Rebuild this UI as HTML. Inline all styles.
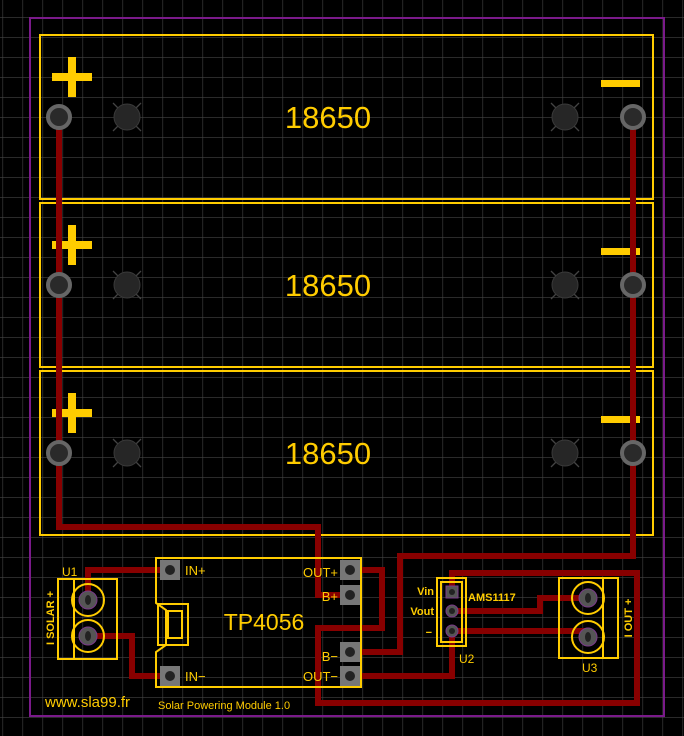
<!DOCTYPE html>
<html><head><style>body{margin:0;background:#000}svg{display:block}</style></head><body>
<svg width="684" height="736" viewBox="0 0 684 736" xmlns="http://www.w3.org/2000/svg" font-family="Liberation Sans, sans-serif">
<defs>
<pattern id="g" x="2.5" y="17" width="20" height="20" patternUnits="userSpaceOnUse">
<path d="M0 0H20M0 0V20" stroke="#444" stroke-width="1.2" fill="none"/>
</pattern>
<g id="bat">
<rect x="40" y="-82" width="613" height="164" fill="none" stroke="#ffcc00" stroke-width="2"/>
<rect x="52" y="-44" width="40" height="8" fill="#ffcc00"/>
<rect x="68" y="-60" width="8" height="40" fill="#ffcc00"/>
<rect x="601" y="-37" width="39" height="7" fill="#ffcc00"/>
<g stroke="#444" stroke-width="1.3"><path d="M113 -14L141 14M141 -14L113 14M551 -14L579 14M579 -14L551 14"/></g>
<circle cx="127" cy="0" r="13" fill="#262626" stroke="#3a3a3a"/>
<circle cx="565" cy="0" r="13" fill="#262626" stroke="#3a3a3a"/>
<text x="328" y="11" font-size="31" fill="#ffcc00" text-anchor="middle" font-weight="300">18650</text>
</g>
</defs>
<rect width="684" height="736" fill="#000"/>
<rect width="684" height="736" fill="url(#g)"/>
<rect x="30" y="18" width="634" height="698" fill="none" stroke="#7a1a8a" stroke-width="2"/>
<use href="#bat" y="117"/><use href="#bat" y="285"/><use href="#bat" y="453"/>
<g fill="none" stroke="#880000" stroke-width="6" stroke-linejoin="miter">
<path d="M59 117V527H318V595H350"/>
<path d="M633 117V556H400V652H350"/>
<path d="M350 570H382V628H318V703H637V573H452V592"/>
<path d="M350 676H452V631"/>
<path d="M452 611H540V598H588"/>
<path d="M452 631H588V637"/>
<path d="M88 600V570H170"/>
<path d="M88 636H132V676H170"/>
</g>
<g fill="#2a2a2a" stroke="#666" stroke-width="4">
<circle cx="59" cy="117" r="11"/><circle cx="633" cy="117" r="11"/>
<circle cx="59" cy="285" r="11"/><circle cx="633" cy="285" r="11"/>
<circle cx="59" cy="453" r="11"/><circle cx="633" cy="453" r="11"/>
</g>
<!-- TP4056 -->
<path d="M156 558H361V687H156V652L166 645V610L156 603Z" fill="none" stroke="#ffcc00" stroke-width="2"/>
<path d="M158 604H188V645H158Z M168 611H182V638H168Z" fill="none" stroke="#ffcc00" stroke-width="2"/>
<g fill="#777">
<rect x="160" y="560" width="20" height="20"/><rect x="160" y="666" width="20" height="20"/>
<rect x="340" y="560" width="20" height="20"/><rect x="340" y="585" width="20" height="20"/>
<rect x="340" y="642" width="20" height="20"/><rect x="340" y="666" width="20" height="20"/>
</g>
<g fill="#222">
<circle cx="170" cy="570" r="5"/><circle cx="170" cy="676" r="5"/><circle cx="350" cy="570" r="5"/>
<circle cx="350" cy="595" r="5"/><circle cx="350" cy="652" r="5"/><circle cx="350" cy="676" r="5"/>
</g>
<g fill="#ffcc00" font-size="13">
<text x="185" y="575">IN+</text><text x="185" y="681">IN−</text>
<text x="338" y="577" text-anchor="end">OUT+</text><text x="338" y="601" text-anchor="end">B+</text>
<text x="338" y="661" text-anchor="end">B−</text><text x="338" y="681" text-anchor="end">OUT−</text>
<text x="264" y="630" font-size="23" text-anchor="middle">TP4056</text>
<text x="45" y="707" font-size="15">www.sla99.fr</text>
<text x="158" y="709" font-size="11">Solar Powering Module 1.0</text>
<text x="62" y="576" font-size="12">U1</text>
<text x="459" y="663" font-size="12">U2</text>
<text x="582" y="672" font-size="12">U3</text>
<text x="434" y="595" font-size="11" font-weight="bold" text-anchor="end">Vin</text>
<text x="434" y="615" font-size="11" font-weight="bold" text-anchor="end">Vout</text>
<text x="432" y="636" font-size="11" font-weight="bold" text-anchor="end">−</text>
<text x="468" y="601" font-size="11" font-weight="bold">AMS1117</text>
<text transform="translate(54,618) rotate(-90)" font-size="11" font-weight="bold" text-anchor="middle">I  SOLAR  +</text>
<text transform="translate(632,618) rotate(-90)" font-size="11" font-weight="bold" text-anchor="middle">I  OUT  +</text>
</g>
<!-- U1 / U3 terminals -->
<g fill="none" stroke="#ffcc00" stroke-width="2">
<rect x="58" y="579" width="59" height="80"/><path d="M74 579V659"/>
<circle cx="88" cy="600" r="16"/><circle cx="88" cy="636" r="16"/>
<rect x="559" y="578" width="59" height="80"/><path d="M603 578V658"/>
<circle cx="588" cy="598" r="16"/><circle cx="588" cy="637" r="16"/>
<rect x="437" y="578" width="29" height="68"/><rect x="441" y="582" width="21" height="60"/>
</g>
<g fill="#555" stroke="#7a3a8a" stroke-width="1">
<circle cx="88" cy="600" r="9"/><circle cx="88" cy="636" r="9"/>
<circle cx="588" cy="598" r="9"/><circle cx="588" cy="637" r="9"/>
<rect x="446" y="586" width="12" height="12"/><circle cx="452" cy="611" r="6"/><circle cx="452" cy="631" r="6"/>
</g>
<g fill="#222"><ellipse cx="88" cy="600" rx="3" ry="5"/><ellipse cx="88" cy="636" rx="3" ry="5"/>
<ellipse cx="588" cy="598" rx="3" ry="5"/><ellipse cx="588" cy="637" rx="3" ry="5"/>
<circle cx="452" cy="592" r="3"/><circle cx="452" cy="611" r="3"/><circle cx="452" cy="631" r="3"/></g>
</svg>
</body></html>
